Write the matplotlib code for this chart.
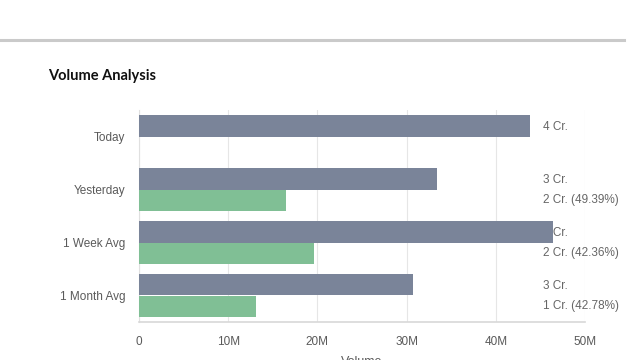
import matplotlib
matplotlib.use("Agg")
import matplotlib.pyplot as plt
from matplotlib.lines import Line2D
import numpy as np

categories = ["Today", "Yesterday", "1 Week Avg", "1 Month Avg"]
volume = [43.8e6, 33.4e6, 46.4e6, 30.7e6]
delivery = [0, 16.5e6, 19.65e6, 13.1e6]
volume_labels = ["4 Cr.", "3 Cr.", "5 Cr.", "3 Cr."]
delivery_labels = ["", "2 Cr. (49.39%)", "2 Cr. (42.36%)", "1 Cr. (42.78%)"]
xticks = [0, 10e6, 20e6, 30e6, 40e6, 50e6]
xtick_labels = ["0", "10M", "20M", "30M", "40M", "50M"]

GREY = "#7a8499"
GREEN = "#80bf95"
TXT = "#5a5a5a"

fig = plt.figure(figsize=(6.4, 3.6), dpi=100)
fig.patch.set_facecolor("white")

# top separator line
fig.add_artist(Line2D([0, 624 / 640], [1 - 40 / 360, 1 - 40 / 360], color="#cacaca", lw=2.2,
                      transform=fig.transFigure))
fig.text(48 / 640, 1 - 76 / 360, "Volume Analysis", fontsize=10.5, fontweight="bold",
         family=["Lato", "DejaVu Sans"], color="#111111", va="center", ha="left")

ax = fig.add_axes([139 / 640, 38 / 360, 446 / 640, 212 / 360])
y = np.arange(len(categories))
h = 0.4
ax.barh(y - h / 2, volume, height=h, color=GREY, zorder=3)
ax.barh(y + h / 2, delivery, height=h, color=GREEN, zorder=3)

ax.set_xlim(0, 50e6)
ax.set_ylim(len(categories) - 0.5, -0.5)
ax.set_xticks(xticks)
ax.set_xticklabels(xtick_labels)
ax.set_yticks(y)
ax.set_yticklabels(categories)
ax.tick_params(axis="both", length=0, labelsize=8.5, labelcolor=TXT)
for lab in ax.get_xticklabels() + ax.get_yticklabels():
    lab.set_family(["Liberation Sans", "DejaVu Sans"])
ax.tick_params(axis="y", pad=10)
ax.tick_params(axis="x", pad=10)
ax.grid(axis="x", color="#e6e6e6", lw=0.8, zorder=0)
for s in ["top", "right"]:
    ax.spines[s].set_visible(False)
ax.spines["left"].set_color("#e0e0e0")
ax.spines["bottom"].set_color("#d8d8d8")
ax.spines["bottom"].set_linewidth(1.2)

ax.set_xlabel("Volume", fontsize=9, color=TXT, family=["Liberation Sans", "DejaVu Sans"], labelpad=6)

trans = ax.get_yaxis_transform()
lx = (543 - 139) / 446
for i in range(len(categories)):
    ax.text(lx, y[i] - h / 2 + 0.03, volume_labels[i], transform=trans, fontsize=8.5, color="#666666",
            va="center", ha="left", zorder=1, family=["Liberation Sans", "DejaVu Sans"])
    if delivery_labels[i]:
        ax.text(lx, y[i] + h / 2, delivery_labels[i], transform=trans, fontsize=8.5, color="#666666",
                va="center", ha="left", zorder=1, family=["Liberation Sans", "DejaVu Sans"])

fig.savefig("out.png", dpi=100)
